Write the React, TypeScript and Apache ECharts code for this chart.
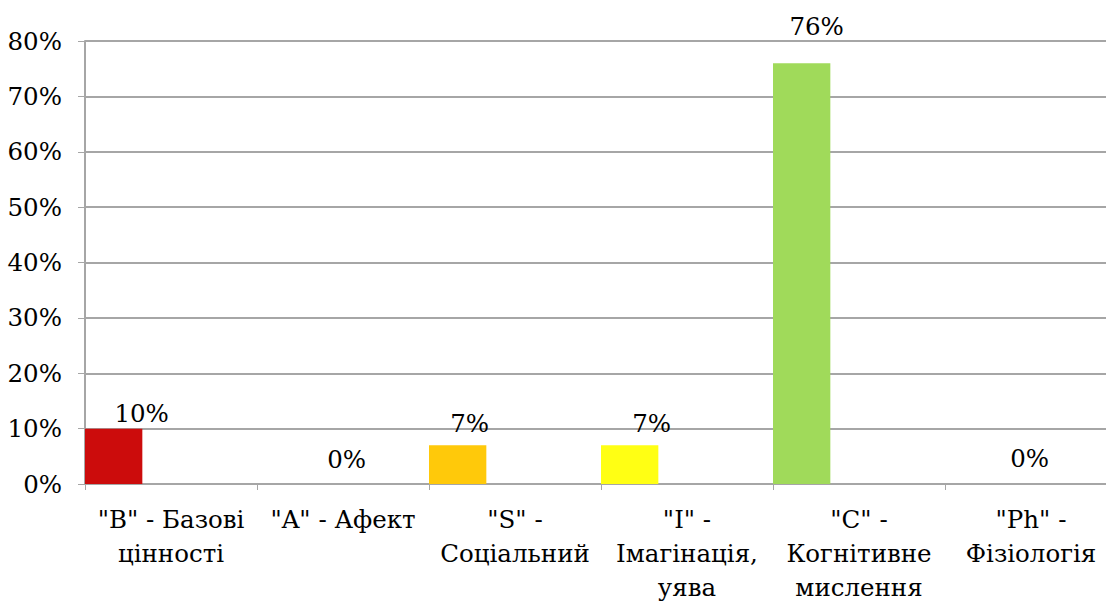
import React, { useEffect, useRef } from "react";
import * as echarts from "echarts";

const categories = [
  '"B" - Базові\nцінності',
  '"A" - Афект',
  '"S" -\nСоціальний',
  '"I" -\nІмагінація,\nуява',
  '"C" -\nКогнітивне\nмислення',
  '"Ph" -\nФізіологія',
];
const values = [10, 0, 7, 7, 76, 0];
const barColors = ["#cc0c0c", "#ffc90a", "#ffff14", "#ffc90a", "#a0da5a", "#a0da5a"];
const colorIndex = [0, 1, 1, 2, 4, 5];
const yTicks = { min: 0, max: 80, interval: 10 };

// label nudges (style only)
const labelNudges: number[][] = [
  [28, 2],
  [61, -7],
  [12, -4],
  [22, -4],
  [15, -19],
  [56, -8],
];

const FONT = "DejaVu Serif";
const FS = 24.5;

export default function App() {
  const ref = useRef<HTMLDivElement>(null);
  useEffect(() => {
    if (!ref.current) return;
    const chart = echarts.init(ref.current, undefined, { renderer: "svg" });
    const data = values.map((v, i) => ({
      value: v,
      itemStyle: { color: barColors[colorIndex[i]] },
      label: { offset: labelNudges[i] },
    }));
    chart.setOption({
      animation: false,
      backgroundColor: "#ffffff",
      textStyle: { fontFamily: FONT },
      grid: { left: 85, top: 41, right: 3, bottom: 118, containLabel: false },
      xAxis: {
        type: "category",
        data: categories,
        axisLine: { show: true, lineStyle: { color: "#a6a6a6", width: 2 } },
        axisTick: { show: true, length: 6, lineStyle: { color: "#a6a6a6", width: 1 } },
        axisLabel: {
          interval: 0,
          color: "#000",
          fontFamily: FONT,
          fontSize: FS,
          lineHeight: 34,
          margin: 18,
          align: "center",
        },
        splitLine: { show: false },
      },
      yAxis: {
        type: "value",
        min: yTicks.min,
        max: yTicks.max,
        interval: yTicks.interval,
        axisLine: { show: true, lineStyle: { color: "#a6a6a6", width: 2 } },
        axisTick: { show: true, length: 7, lineStyle: { color: "#a6a6a6", width: 1 } },
        axisLabel: {
          formatter: "{value}%",
          color: "#000",
          fontFamily: FONT,
          fontSize: FS,
          margin: 23,
        },
        splitLine: { show: true, lineStyle: { color: "#a6a6a6", width: 2 } },
      },
      series: [
        {
          type: "bar",
          data,
          barGap: "0%",
          barCategoryGap: "0%",
          label: {
            show: true,
            position: "top",
            formatter: "{c}%",
            color: "#000",
            fontFamily: FONT,
            fontSize: FS,
          },
        },
        { type: "bar", data: values.map(() => null), barGap: "0%", barCategoryGap: "0%", silent: true },
        { type: "bar", data: values.map(() => null), barGap: "0%", barCategoryGap: "0%", silent: true },
      ],
    });
    return () => chart.dispose();
  }, []);
  return (
    <div
      ref={ref}
      style={{ position: "fixed", left: 0, top: 0, width: 1120, height: 604, background: "#fff" }}
    />
  );
}
